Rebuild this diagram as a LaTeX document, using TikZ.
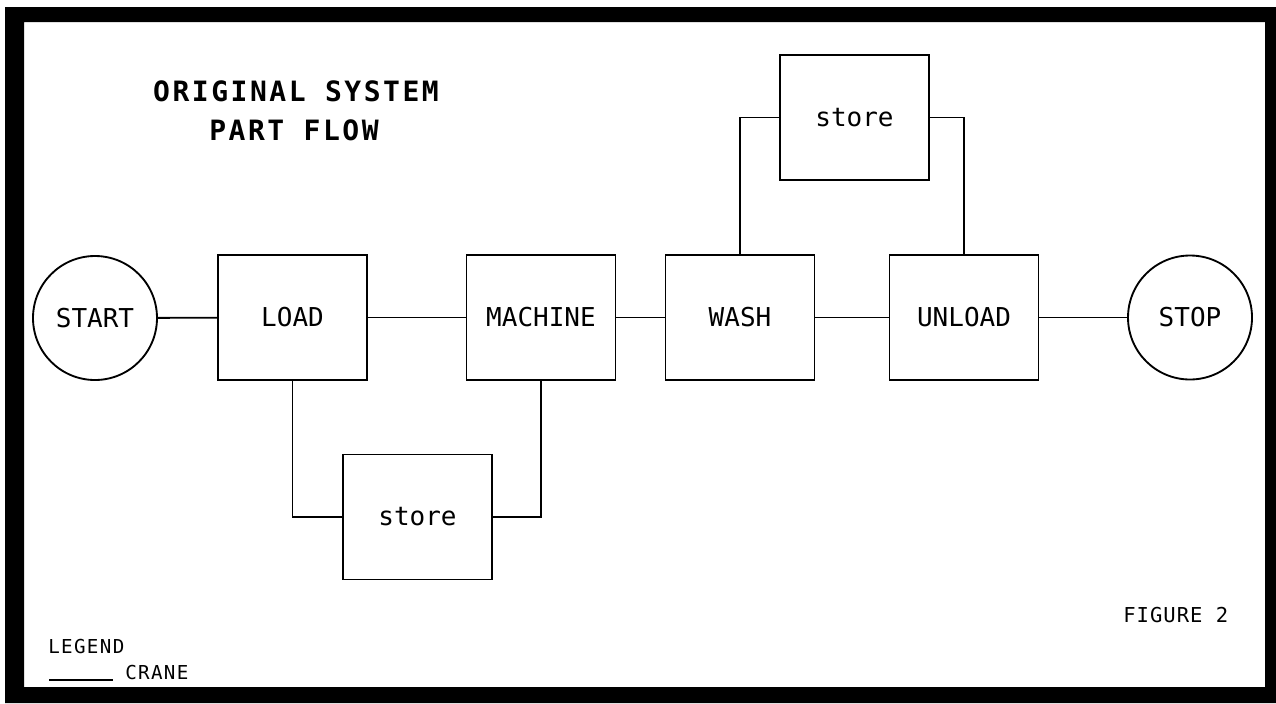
\documentclass[tikz,border=0pt]{standalone}
\usepackage{fontspec}
\newfontfamily\plotfont{DejaVu Sans Mono}
\newfontfamily\plottitlefont[LetterSpace=9]{DejaVu Sans Mono}
\newfontfamily\plotlegfont[LetterSpace=7]{DejaVu Sans Mono}
\newfontfamily\plotfigfont[LetterSpace=5]{DejaVu Sans Mono}
\newcommand\dgnodefont{\plotfont\fontsize{19.5}{23}\selectfont}
\newcommand\dgtitlefont{\plottitlefont\bfseries\fontsize{21}{25}\selectfont}
\newcommand\dglegfont{\plotlegfont\fontsize{14.4}{17}\selectfont}
\newcommand\dgfigfont{\plotfigfont\fontsize{15.4}{18}\selectfont}
\begin{document}
\begin{tikzpicture}[x=0.75pt,y=-0.75pt,
  stepbox/.style={draw, line width=1.4pt, minimum width=111.75pt, minimum height=93.75pt, inner sep=0pt, font=\dgnodefont},
  endcirc/.style={circle, draw, line width=1.4pt, minimum size=93pt, inner sep=0pt, font=\dgnodefont},
  link/.style={line width=1.4pt},
  lbl/.style={inner sep=0pt, anchor=west}]
\useasboundingbox (0,0) rectangle (1276,703);
\fill[white] (0,0) rectangle (1276,703);
% frame
\fill[black, even odd rule] (5,7) rectangle (1276,703) (24,22) rectangle (1265,687);
% title
\node[inner sep=0pt, font=\dgtitlefont] (title1) at (296,91) {ORIGINAL SYSTEM};
\node[inner sep=0pt, font=\dgtitlefont] (title2) at (294,130) {PART FLOW};
% nodes
\node[endcirc] (start) at (95,318) {START};
\node[stepbox] (load) at (292.5,317.5) {LOAD};
\node[stepbox] (machine) at (541,317.5) {MACHINE};
\node[stepbox] (wash) at (740,317.5) {WASH};
\node[stepbox] (unload) at (964,317.5) {UNLOAD};
\node[endcirc] (stop) at (1190,317.5) {STOP};
\node[stepbox] (storeA) at (417.5,517) {store};
\node[stepbox] (storeB) at (854.5,117.5) {store};
% connectors
\draw[link] (start) -- (load);
\draw[link] (load) -- (machine);
\draw[link] (machine) -- (wash);
\draw[link] (wash) -- (unload);
\draw[link] (unload) -- (stop);
\draw[link] (load.south) |- (storeA.west);
\draw[link] (machine.south) |- (storeA.east);
\draw[link] (wash.north) |- (storeB.west);
\draw[link] (unload.north) |- (storeB.east);
% legend
\node[lbl, font=\dglegfont] (legend) at (48,646) {LEGEND};
\node[lbl, font=\dglegfont] (crane) at (125,672) {CRANE};
\coordinate (legA) at (49,680);
\coordinate (legB) at (113,680);
\draw[line width=1pt] (legA) -- (legB);
\node[lbl, font=\dgfigfont] (fig) at (1123,615.5) {FIGURE 2};
\end{tikzpicture}
\end{document}
